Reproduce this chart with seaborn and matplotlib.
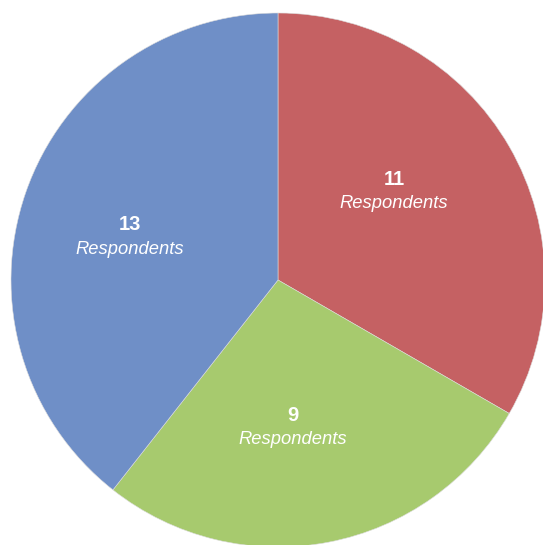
import matplotlib
matplotlib.use("Agg")
import matplotlib.pyplot as plt
import seaborn as sns

# Respondent counts per answer group
groups = ["Group A", "Group B", "Group C"]
counts = [11, 9, 13]
unit_label = "Respondents"

sns.set_theme(style="white")
plt.rcParams["font.family"] = ["Liberation Sans", "DejaVu Sans"]

colors = ["#C56163", "#A7CA6E", "#6F8FC7"]

fig = plt.figure(figsize=(5.43, 5.45), dpi=100)
fig.patch.set_facecolor("white")
ax = fig.add_axes([11 / 543, -2 / 545, 534 / 543, 534 / 545])

wedges, _ = ax.pie(
    counts,
    colors=colors,
    startangle=90,
    counterclock=False,
    radius=1.0,
    wedgeprops=dict(linewidth=0.4, edgecolor="#dcdcdc"),
)
ax.set_xlim(-1, 1)
ax.set_ylim(-1, 1)
ax.set_aspect("equal")
ax.axis("off")

# Label anchors (data units) for each wedge
label_pos = [(0.434, 0.316), (0.056, -0.568), (-0.554, 0.147)]
for (x, y), n in zip(label_pos, counts):
    ax.annotate(str(n), (x, y), xytext=(0, 11.5), textcoords="offset points",
                ha="center", va="center", fontsize=14.5, fontweight="bold",
                color="white")
    ax.annotate(unit_label, (x, y), xytext=(0, -6), textcoords="offset points",
                ha="center", va="center", fontsize=13.2, fontstyle="italic",
                color="white")

fig.savefig("out.png", dpi=100)
